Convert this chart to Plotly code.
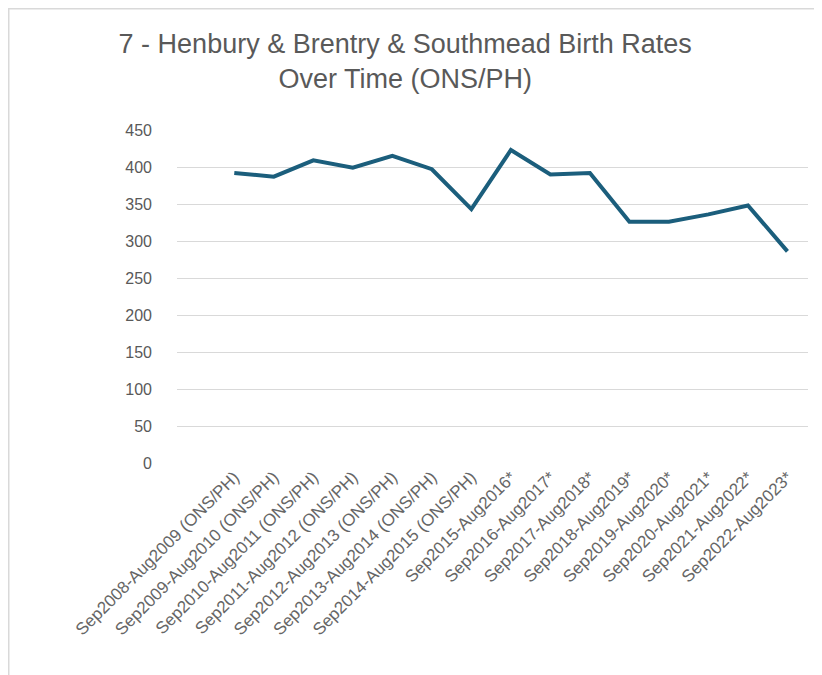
import plotly.graph_objects as go

categories = [
    "Sep2008-Aug2009 (ONS/PH)", "Sep2009-Aug2010 (ONS/PH)", "Sep2010-Aug2011 (ONS/PH)",
    "Sep2011-Aug2012 (ONS/PH)", "Sep2012-Aug2013 (ONS/PH)", "Sep2013-Aug2014 (ONS/PH)",
    "Sep2014-Aug2015 (ONS/PH)", "Sep2015-Aug2016*", "Sep2016-Aug2017*", "Sep2017-Aug2018*",
    "Sep2018-Aug2019*", "Sep2019-Aug2020*", "Sep2020-Aug2021*", "Sep2021-Aug2022*",
    "Sep2022-Aug2023*",
]
births = [392, 387, 409, 399, 415, 397, 343, 423, 390, 392, 326, 326, 336, 348, 286]
y_ticks = [0, 50, 100, 150, 200, 250, 300, 350, 400, 450]

FONT = "Liberation Sans Narrow, Arial Narrow, Liberation Sans, Arial"
GREY = "#595959"

W, H = 814, 667
L, R, T, B = 169, 14, 122, 212
PW, PH = W - L - R, H - T - B

fig = go.Figure(go.Scatter(
    x=list(range(len(categories))), y=births, mode="lines",
    line=dict(color="#1B5E7C", width=4), hoverinfo="y",
))

fig.update_layout(
    width=W, height=H,
    paper_bgcolor="white", plot_bgcolor="white",
    margin=dict(l=L, r=R, t=T, b=B),
    showlegend=False,
    title=dict(
        text="7 - Henbury & Brentry & Southmead Birth Rates<br>Over Time (ONS/PH)",
        x=0.488, xanchor="center", y=0.933, yanchor="top",
        font=dict(family=FONT, size=27, color=GREY),
    ),
    font=dict(family=FONT, color=GREY),
)
fig.update_xaxes(
    range=[-1.45, 14.52], tickmode="array",
    tickvals=list(range(len(categories))), ticktext=categories,
    tickangle=-45, tickfont=dict(size=17, color="#666666"),
    showgrid=False, showline=False, zeroline=False, ticks="",
)
fig.update_yaxes(
    range=[0, 450], tickmode="array", tickvals=y_ticks,
    tickfont=dict(size=16, color=GREY),
    showgrid=True, gridcolor="#D9D9D9", gridwidth=1,
    zeroline=False, showline=False, ticks="", ticklabelstandoff=24,
)
# chart border: top and left edges
border = dict(color="#D9D9D9", width=1.5)
fig.add_shape(type="line", xref="paper", yref="paper",
              x0=-L / PW, x1=(W - L) / PW, y0=(PH + T - 0.75) / PH, y1=(PH + T - 0.75) / PH,
              line=border, layer="below")
fig.add_shape(type="line", xref="paper", yref="paper",
              x0=(-L + 0.75) / PW, x1=(-L + 0.75) / PW, y0=-B / PH, y1=(PH + T) / PH,
              line=border, layer="below")

fig.write_html("out.html")
